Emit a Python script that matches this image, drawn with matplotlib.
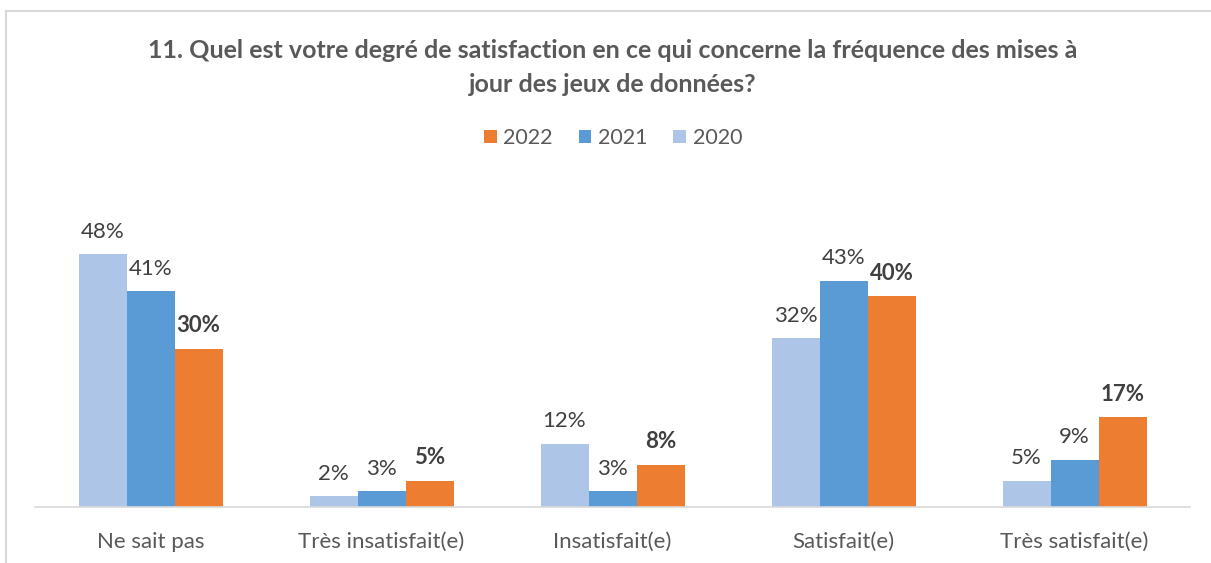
import matplotlib

matplotlib.use("Agg")
import matplotlib.pyplot as plt
import numpy as np
from matplotlib.patches import Rectangle

plt.rcParams["font.family"] = ["Lato", "DejaVu Sans"]

categories = ["Ne sait pas", "Très insatisfait(e)", "Insatisfait(e)", "Satisfait(e)", "Très satisfait(e)"]
years = ["2020", "2021", "2022"]
values_2020 = [48, 2, 12, 32, 5]
values_2021 = [41, 3, 3, 43, 9]
values_2022 = [30, 5, 8, 40, 17]

colors = {"2020": "#ADC6E8", "2021": "#5B9BD5", "2022": "#ED7D31"}
series = {"2020": values_2020, "2021": values_2021, "2022": values_2022}

W, H = 1211, 563
fig = plt.figure(figsize=(W / 100, H / 100), dpi=100)

# light frame around the chart area (top and left visible)
fig.patches.append(Rectangle((6 / W, -0.1), 1.2, (H - 11) / H + 0.1, transform=fig.transFigure,
                             fill=False, edgecolor="#D9D9D9", linewidth=1.5))

ax = fig.add_axes([35 / W, 56 / H, 1155 / W, 316 / H])
x = np.arange(len(categories))
bar_w = 48 / 231
offsets = {"2020": -bar_w, "2021": 0.0, "2022": bar_w}

for year in years:
    bars = ax.bar(x + offsets[year], series[year], width=bar_w, color=colors[year], label=year)
    for rect, v in zip(bars, series[year]):
        ax.annotate(f"{v}%", (rect.get_x() + rect.get_width() / 2, rect.get_height()),
                    xytext=(0, 9), textcoords="offset points", ha="center", va="bottom",
                    fontsize=16, color="#404040",
                    fontweight="bold" if year == "2022" else "normal")

ax.set_xlim(-0.5, len(categories) - 0.5)
ax.set_ylim(0, 60)
ax.set_xticks(x, labels=categories)
ax.tick_params(axis="x", length=0, pad=18, labelsize=16, labelcolor="#595959")
ax.set_yticks([])
for side in ["top", "right", "left"]:
    ax.spines[side].set_visible(False)
ax.spines["bottom"].set_color("#D9D9D9")
ax.spines["bottom"].set_linewidth(1.2)

fig.text(613 / W, 1 - 50 / H,
         "11. Quel est votre degré de satisfaction en ce qui concerne la fréquence des mises à",
         ha="center", va="center", fontsize=18, fontweight="bold", color="#595959")
fig.text(613 / W, 1 - 84 / H, "jour des jeux de données?",
         ha="center", va="center", fontsize=18, fontweight="bold", color="#595959")

handles, labels = ax.get_legend_handles_labels()
order = [2, 1, 0]
fig.legend([handles[i] for i in order], [labels[i] for i in order],
           loc="center", bbox_to_anchor=(613 / W, 1 - 138 / H), ncol=3, frameon=False,
           fontsize=15.5, labelcolor="#595959", handlelength=0.6, handleheight=0.6,
           handletextpad=0.3, columnspacing=1.2)

fig.savefig("out.png", dpi=100)
